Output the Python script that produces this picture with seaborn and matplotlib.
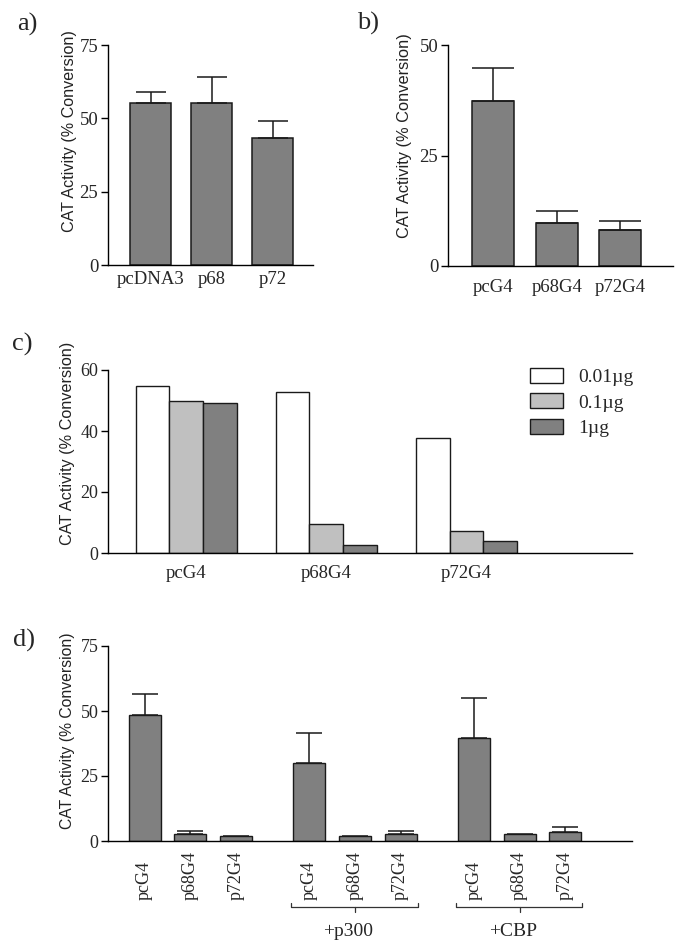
import numpy as np
import pandas as pd
import matplotlib
matplotlib.use("Agg")
import matplotlib.pyplot as plt
import seaborn as sns
from matplotlib.transforms import blended_transform_factory

# ---------------- data ----------------
a_labels = ["pcDNA3", "p68", "p72"]
a_values = [55.1, 55.1, 43.4]
a_errors = [4.0, 8.9, 5.6]
a_yticks = [0, 25, 50, 75]

b_labels = ["pcG4", "p68G4", "p72G4"]
b_values = [37.3, 9.8, 8.2]
b_errors = [7.5, 2.6, 2.0]
b_yticks = [0, 25, 50]

c_groups = ["pcG4", "p68G4", "p72G4"]
c_doses = ["0.01µg", "0.1µg", "1µg"]
c_values_001 = [54.9, 52.8, 37.6]
c_values_01 = [49.9, 9.4, 7.2]
c_values_1 = [49.2, 2.5, 3.9]
c_yticks = [0, 20, 40, 60]

d_labels = ["pcG4", "p68G4", "p72G4", "pcG4", "p68G4", "p72G4", "pcG4", "p68G4", "p72G4"]
d_group_names = ["", "+p300", "+CBP"]
d_values = [48.6, 2.6, 1.9, 30.0, 1.9, 2.8, 39.8, 2.7, 3.6]
d_errors = [7.8, 1.2, np.nan, 11.7, np.nan, 1.0, 15.2, np.nan, 1.8]
d_yticks = [0, 25, 50, 75]

ylabel_text = "CAT Activity (% Conversion)"

# ---------------- style ----------------
sns.set_style("ticks")
plt.rcParams["font.family"] = ["Liberation Serif", "DejaVu Serif"]
plt.rcParams["axes.linewidth"] = 1.0
plt.rcParams["xtick.major.width"] = 1.0
plt.rcParams["ytick.major.width"] = 1.0

DARK = "#808080"
LIGHT = "#c0c0c0"
WHITE = "#ffffff"
EDGE = "#1a1a1a"
SANS = ["Liberation Sans", "DejaVu Sans"]

W, H = 685, 940
fig = plt.figure(figsize=(W / 100, H / 100), dpi=100)


def add_ax(l, r, t, b):
    return fig.add_axes([l / W, 1 - b / H, (r - l) / W, (b - t) / H])


def style_ax(ax, yticks, ytick_size, xpad, xsize):
    sns.despine(ax=ax)
    ax.set_ylim(yticks[0], yticks[-1])
    ax.set_yticks(yticks)
    ax.tick_params(axis="y", direction="out", length=5, pad=2, labelsize=ytick_size, color="black")
    ax.tick_params(axis="x", length=0, pad=xpad, labelsize=xsize)
    ax.set_xlabel("")
    for s in ["left", "bottom"]:
        ax.spines[s].set_color("black")


def set_ylabel(ax, size, xr, yc):
    ax.set_ylabel(ylabel_text, family=SANS, fontsize=size, color="#222222")
    ax.yaxis.set_label_coords(xr, yc)


# ---------------- panel a ----------------
ax = add_ax(108, 313, 45, 265)
dfa = pd.DataFrame({"label": a_labels, "value": a_values})
sns.barplot(data=dfa, x="label", y="value", color=DARK, saturation=1, width=0.67,
            edgecolor=EDGE, linewidth=1.1, ax=ax)
ax.errorbar(np.arange(len(a_values)), a_values, yerr=[np.zeros(len(a_errors)), a_errors],
            fmt="none", ecolor=EDGE, elinewidth=1.1, capsize=11, capthick=1.1, zorder=1)
ax.set_xlim(-0.70, 2.66)
style_ax(ax, a_yticks, 13.5, 4, 13.5)
set_ylabel(ax, 11.6, -0.15, 0.607)

# ---------------- panel b ----------------
ax = add_ax(448, 673, 45, 266)
dfb = pd.DataFrame({"label": b_labels, "value": b_values})
sns.barplot(data=dfb, x="label", y="value", color=DARK, saturation=1, width=0.66,
            edgecolor=EDGE, linewidth=1.1, ax=ax)
ax.errorbar(np.arange(len(b_values)), b_values, yerr=[np.zeros(len(b_errors)), b_errors],
            fmt="none", ecolor=EDGE, elinewidth=1.1, capsize=15, capthick=1.1, zorder=1)
ax.set_xlim(-0.71, 2.83)
style_ax(ax, b_yticks, 13.5, 9, 13.5)
set_ylabel(ax, 11.8, -0.16, 0.59)

# ---------------- panel c ----------------
ax = add_ax(108, 632, 370, 553)
dfc = pd.DataFrame({
    "group": c_groups * 3,
    "dose": [c_doses[0]] * 3 + [c_doses[1]] * 3 + [c_doses[2]] * 3,
    "value": c_values_001 + c_values_01 + c_values_1,
})
sns.barplot(data=dfc, x="group", y="value", hue="dose", order=c_groups, hue_order=c_doses,
            palette=[WHITE, LIGHT, DARK], saturation=1, width=0.72,
            edgecolor=EDGE, linewidth=1.0, ax=ax)
ax.set_xlim(-0.557, 3.18)
style_ax(ax, c_yticks, 13, 9, 13.5)
set_ylabel(ax, 11.7, -0.0626, 0.60)
handles, labels = ax.get_legend_handles_labels()
ax.legend(handles, labels, loc="upper left",
          bbox_to_anchor=(530 / W, 1 - 368 / H), bbox_transform=fig.transFigure,
          frameon=False, fontsize=14, handlelength=1.72, handleheight=0.78,
          handletextpad=0.75, labelspacing=0.38, borderpad=0, borderaxespad=0)

# ---------------- panel d ----------------
ax = add_ax(108, 632, 646, 841)
d_pos = [g * 3.6 + i for g in range(3) for i in range(3)]
dfd = pd.DataFrame({"pos": d_pos, "value": d_values})
sns.barplot(data=dfd, x="pos", y="value", native_scale=True, color=DARK, saturation=1,
            width=0.7, edgecolor=EDGE, linewidth=1.0, ax=ax)
ax.errorbar(d_pos, d_values, yerr=[np.zeros(len(d_errors)), d_errors],
            fmt="none", ecolor=EDGE, elinewidth=1.1, capsize=9.5, capthick=1.1, zorder=1)
ax.set_xlim(-0.80, 10.66)
style_ax(ax, d_yticks, 13, 42.5, 13)
ax.set_xticks(d_pos)
ax.set_xticklabels(d_labels)
for lbl in ax.get_xticklabels():
    lbl.set_rotation(90)
    lbl.set_va("bottom")
    lbl.set_ha("center")
set_ylabel(ax, 11.3, -0.0626, 0.565)

# group brackets
tr = blended_transform_factory(ax.transData, fig.transFigure)
y_line = 1 - 907 / H
y_up = 1 - 903 / H
y_down = 1 - 911.5 / H
for g, name in enumerate(d_group_names):
    if not name:
        continue
    x0 = d_pos[3 * g] - 0.4
    x1 = d_pos[3 * g + 2] + 0.37
    xc = d_pos[3 * g + 1]
    ax.plot([x0, x0, x1, x1], [y_up, y_line, y_line, y_up], color="#333333", lw=0.9,
            transform=tr, clip_on=False)
    ax.plot([xc, xc], [y_line, y_down], color="#333333", lw=0.9, transform=tr, clip_on=False)
    ax.text(xc - 0.15, 1 - 932 / H, name, transform=tr, ha="center", va="center", fontsize=14)

# ---------------- panel letters ----------------
for txt, x, y in [("a)", 27, 24), ("b)", 368, 23), ("c)", 22, 344), ("d)", 24, 640)]:
    fig.text(x / W, 1 - y / H, txt, ha="center", va="center", fontsize=19)

fig.savefig("out.png", dpi=100)
